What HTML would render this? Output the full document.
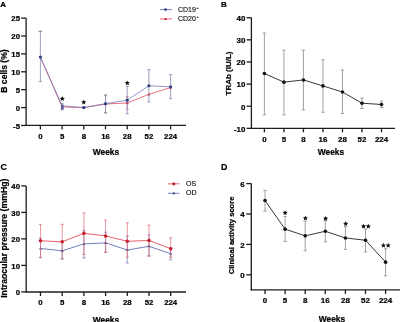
<!DOCTYPE html>
<html><head><meta charset="utf-8"><style>
html,body{margin:0;padding:0;background:#fff;width:400px;height:322px;overflow:hidden}
svg{display:block;font-family:"Liberation Sans", sans-serif;filter:blur(0.3px)}
</style></head><body>
<svg width="400" height="322" viewBox="0 0 400 322">
<rect width="400" height="322" fill="#fff"/>
<text x="0.20" y="7.30" font-size="8.0" text-anchor="start" font-weight="bold" fill="#000" stroke="#000" stroke-width="0.22">A</text>
<line x1="26.10" y1="18.10" x2="26.10" y2="126.00" stroke="#1c1c1c" stroke-width="1.3"/>
<line x1="25.50" y1="125.40" x2="186.00" y2="125.40" stroke="#1c1c1c" stroke-width="1.3"/>
<line x1="21.10" y1="18.10" x2="26.10" y2="18.10" stroke="#1c1c1c" stroke-width="1.3"/>
<text x="20.00" y="21.41" font-size="7.8" text-anchor="end" font-weight="bold" fill="#000" stroke="#000" stroke-width="0.22">25</text>
<line x1="21.10" y1="36.00" x2="26.10" y2="36.00" stroke="#1c1c1c" stroke-width="1.3"/>
<text x="20.00" y="39.31" font-size="7.8" text-anchor="end" font-weight="bold" fill="#000" stroke="#000" stroke-width="0.22">20</text>
<line x1="21.10" y1="53.90" x2="26.10" y2="53.90" stroke="#1c1c1c" stroke-width="1.3"/>
<text x="20.00" y="57.21" font-size="7.8" text-anchor="end" font-weight="bold" fill="#000" stroke="#000" stroke-width="0.22">15</text>
<line x1="21.10" y1="71.80" x2="26.10" y2="71.80" stroke="#1c1c1c" stroke-width="1.3"/>
<text x="20.00" y="75.11" font-size="7.8" text-anchor="end" font-weight="bold" fill="#000" stroke="#000" stroke-width="0.22">10</text>
<line x1="21.10" y1="89.70" x2="26.10" y2="89.70" stroke="#1c1c1c" stroke-width="1.3"/>
<text x="20.00" y="93.01" font-size="7.8" text-anchor="end" font-weight="bold" fill="#000" stroke="#000" stroke-width="0.22">5</text>
<line x1="21.10" y1="107.60" x2="26.10" y2="107.60" stroke="#1c1c1c" stroke-width="1.3"/>
<text x="20.00" y="110.91" font-size="7.8" text-anchor="end" font-weight="bold" fill="#000" stroke="#000" stroke-width="0.22">0</text>
<line x1="21.10" y1="125.50" x2="26.10" y2="125.50" stroke="#1c1c1c" stroke-width="1.3"/>
<text x="20.00" y="128.81" font-size="7.8" text-anchor="end" font-weight="bold" fill="#000" stroke="#000" stroke-width="0.22">-5</text>
<line x1="40.40" y1="125.40" x2="40.40" y2="129.40" stroke="#1c1c1c" stroke-width="1.3"/>
<text x="40.40" y="138.60" font-size="7.8" text-anchor="middle" font-weight="bold" fill="#000" stroke="#000" stroke-width="0.22">0</text>
<line x1="62.10" y1="125.40" x2="62.10" y2="129.40" stroke="#1c1c1c" stroke-width="1.3"/>
<text x="62.10" y="138.60" font-size="7.8" text-anchor="middle" font-weight="bold" fill="#000" stroke="#000" stroke-width="0.22">5</text>
<line x1="83.80" y1="125.40" x2="83.80" y2="129.40" stroke="#1c1c1c" stroke-width="1.3"/>
<text x="83.80" y="138.60" font-size="7.8" text-anchor="middle" font-weight="bold" fill="#000" stroke="#000" stroke-width="0.22">8</text>
<line x1="105.50" y1="125.40" x2="105.50" y2="129.40" stroke="#1c1c1c" stroke-width="1.3"/>
<text x="105.50" y="138.60" font-size="7.8" text-anchor="middle" font-weight="bold" fill="#000" stroke="#000" stroke-width="0.22">16</text>
<line x1="127.20" y1="125.40" x2="127.20" y2="129.40" stroke="#1c1c1c" stroke-width="1.3"/>
<text x="127.20" y="138.60" font-size="7.8" text-anchor="middle" font-weight="bold" fill="#000" stroke="#000" stroke-width="0.22">28</text>
<line x1="148.90" y1="125.40" x2="148.90" y2="129.40" stroke="#1c1c1c" stroke-width="1.3"/>
<text x="148.90" y="138.60" font-size="7.8" text-anchor="middle" font-weight="bold" fill="#000" stroke="#000" stroke-width="0.22">52</text>
<line x1="170.60" y1="125.40" x2="170.60" y2="129.40" stroke="#1c1c1c" stroke-width="1.3"/>
<text x="170.60" y="138.60" font-size="7.8" text-anchor="middle" font-weight="bold" fill="#000" stroke="#000" stroke-width="0.22">224</text>
<text x="106.00" y="155.30" font-size="8.4" text-anchor="middle" font-weight="bold" fill="#000" stroke="#000" stroke-width="0.22">Weeks</text>
<text x="7.20" y="71.00" font-size="8.6" text-anchor="middle" font-weight="bold" fill="#000" stroke="#000" stroke-width="0.22" transform="rotate(-90 7.20 71.00)">B cells (%)</text>
<line x1="38.60" y1="31.35" x2="42.20" y2="31.35" stroke="#e86a78" stroke-width="0.9"/>
<line x1="105.50" y1="95.07" x2="105.50" y2="112.61" stroke="#d87088" stroke-width="0.75"/>
<line x1="103.95" y1="95.07" x2="107.05" y2="95.07" stroke="#d87088" stroke-width="0.75"/>
<line x1="103.95" y1="112.61" x2="107.05" y2="112.61" stroke="#d87088" stroke-width="0.75"/>
<line x1="127.20" y1="96.68" x2="127.20" y2="109.39" stroke="#d87088" stroke-width="0.75"/>
<line x1="125.65" y1="96.68" x2="128.75" y2="96.68" stroke="#d87088" stroke-width="0.75"/>
<line x1="125.65" y1="109.39" x2="128.75" y2="109.39" stroke="#d87088" stroke-width="0.75"/>
<polyline points="40.40,57.12 62.10,106.88 83.80,107.60 105.50,104.02 127.20,102.95 148.90,94.35 170.60,87.55" fill="none" stroke="#e2566a" stroke-width="0.85"/>
<polygon points="105.50,102.52 107.00,105.07 104.00,105.07" fill="#c0202e"/>
<polygon points="127.20,101.45 128.70,104.00 125.70,104.00" fill="#c0202e"/>
<polygon points="148.90,92.85 150.40,95.40 147.40,95.40" fill="#c0202e"/>
<polygon points="170.60,86.05 172.10,88.60 169.10,88.60" fill="#c0202e"/>
<line x1="40.40" y1="31.35" x2="40.40" y2="81.47" stroke="#8588b4" stroke-width="0.8"/>
<line x1="38.85" y1="31.35" x2="41.95" y2="31.35" stroke="#8588b4" stroke-width="0.8"/>
<line x1="38.85" y1="81.47" x2="41.95" y2="81.47" stroke="#8588b4" stroke-width="0.8"/>
<line x1="62.10" y1="103.30" x2="62.10" y2="109.75" stroke="#8588b4" stroke-width="0.8"/>
<line x1="60.55" y1="103.30" x2="63.65" y2="103.30" stroke="#8588b4" stroke-width="0.8"/>
<line x1="60.55" y1="109.75" x2="63.65" y2="109.75" stroke="#8588b4" stroke-width="0.8"/>
<line x1="83.80" y1="106.88" x2="83.80" y2="108.32" stroke="#8588b4" stroke-width="0.8"/>
<line x1="82.25" y1="106.88" x2="85.35" y2="106.88" stroke="#8588b4" stroke-width="0.8"/>
<line x1="82.25" y1="108.32" x2="85.35" y2="108.32" stroke="#8588b4" stroke-width="0.8"/>
<line x1="105.50" y1="95.07" x2="105.50" y2="112.97" stroke="#8588b4" stroke-width="0.8"/>
<line x1="103.95" y1="95.07" x2="107.05" y2="95.07" stroke="#8588b4" stroke-width="0.8"/>
<line x1="103.95" y1="112.97" x2="107.05" y2="112.97" stroke="#8588b4" stroke-width="0.8"/>
<line x1="127.20" y1="86.48" x2="127.20" y2="113.69" stroke="#8588b4" stroke-width="0.8"/>
<line x1="125.65" y1="86.48" x2="128.75" y2="86.48" stroke="#8588b4" stroke-width="0.8"/>
<line x1="125.65" y1="113.69" x2="128.75" y2="113.69" stroke="#8588b4" stroke-width="0.8"/>
<line x1="148.90" y1="69.65" x2="148.90" y2="101.87" stroke="#8588b4" stroke-width="0.8"/>
<line x1="147.35" y1="69.65" x2="150.45" y2="69.65" stroke="#8588b4" stroke-width="0.8"/>
<line x1="147.35" y1="101.87" x2="150.45" y2="101.87" stroke="#8588b4" stroke-width="0.8"/>
<line x1="170.60" y1="74.66" x2="170.60" y2="98.65" stroke="#8588b4" stroke-width="0.8"/>
<line x1="169.05" y1="74.66" x2="172.15" y2="74.66" stroke="#8588b4" stroke-width="0.8"/>
<line x1="169.05" y1="98.65" x2="172.15" y2="98.65" stroke="#8588b4" stroke-width="0.8"/>
<g opacity="0.85">
<polyline points="40.40,57.12 62.10,105.81 83.80,107.60 105.50,103.70 127.20,100.19 148.90,85.76 170.60,86.84" fill="none" stroke="#6670b6" stroke-width="0.85"/>
</g>
<rect x="60.9" y="104.6" width="2.8" height="5" fill="#6a5c98"/>
<circle cx="40.40" cy="57.12" r="1.6" fill="#34407e"/>
<circle cx="83.80" cy="107.60" r="1.6" fill="#34407e"/>
<circle cx="105.50" cy="103.70" r="1.6" fill="#34407e"/>
<circle cx="127.20" cy="100.19" r="1.6" fill="#34407e"/>
<circle cx="148.90" cy="85.76" r="1.6" fill="#34407e"/>
<circle cx="170.60" cy="86.84" r="1.6" fill="#34407e"/>
<polygon points="62.30,96.11 63.05,97.74 64.82,97.95 63.51,99.16 63.86,100.91 62.30,100.04 60.74,100.91 61.09,99.16 59.78,97.95 61.55,97.74" fill="#111"/>
<polygon points="83.75,99.61 84.50,101.24 86.27,101.45 84.96,102.66 85.31,104.41 83.75,103.54 82.19,104.41 82.54,102.66 81.23,101.45 83.00,101.24" fill="#111"/>
<polygon points="127.30,80.41 128.05,82.04 129.82,82.25 128.51,83.46 128.86,85.21 127.30,84.34 125.74,85.21 126.09,83.46 124.78,82.25 126.55,82.04" fill="#111"/>
<line x1="160.00" y1="9.60" x2="172.00" y2="9.60" stroke="#7a82c0" stroke-width="1.0"/>
<circle cx="165.50" cy="9.60" r="1.4" fill="#34407e"/>
<text x="178.00" y="12.20" font-size="7.0" text-anchor="start" font-weight="normal" fill="#000" stroke="#000" stroke-width="0.1">CD19<tspan font-size="3.8" dx="0.6" dy="-3.0">+</tspan></text>
<line x1="160.00" y1="18.90" x2="172.00" y2="18.90" stroke="#e86878" stroke-width="1.0"/>
<polygon points="165.50,17.40 167.00,19.95 164.00,19.95" fill="#c0202e"/>
<text x="178.00" y="21.30" font-size="7.0" text-anchor="start" font-weight="normal" fill="#000" stroke="#000" stroke-width="0.1">CD20<tspan font-size="3.8" dx="0.6" dy="-3.0">+</tspan></text>
<text x="221.00" y="7.30" font-size="8.0" text-anchor="start" font-weight="bold" fill="#000" stroke="#000" stroke-width="0.22">B</text>
<line x1="251.40" y1="17.70" x2="251.40" y2="128.90" stroke="#1c1c1c" stroke-width="1.3"/>
<line x1="250.80" y1="128.30" x2="395.00" y2="128.30" stroke="#1c1c1c" stroke-width="1.3"/>
<line x1="246.60" y1="17.72" x2="251.40" y2="17.72" stroke="#1c1c1c" stroke-width="1.3"/>
<text x="245.40" y="21.06" font-size="7.9" text-anchor="end" font-weight="bold" fill="#000" stroke="#000" stroke-width="0.22">40</text>
<line x1="246.60" y1="39.84" x2="251.40" y2="39.84" stroke="#1c1c1c" stroke-width="1.3"/>
<text x="245.40" y="43.18" font-size="7.9" text-anchor="end" font-weight="bold" fill="#000" stroke="#000" stroke-width="0.22">30</text>
<line x1="246.60" y1="61.96" x2="251.40" y2="61.96" stroke="#1c1c1c" stroke-width="1.3"/>
<text x="245.40" y="65.30" font-size="7.9" text-anchor="end" font-weight="bold" fill="#000" stroke="#000" stroke-width="0.22">20</text>
<line x1="246.60" y1="84.08" x2="251.40" y2="84.08" stroke="#1c1c1c" stroke-width="1.3"/>
<text x="245.40" y="87.42" font-size="7.9" text-anchor="end" font-weight="bold" fill="#000" stroke="#000" stroke-width="0.22">10</text>
<line x1="246.60" y1="106.20" x2="251.40" y2="106.20" stroke="#1c1c1c" stroke-width="1.3"/>
<text x="245.40" y="109.54" font-size="7.9" text-anchor="end" font-weight="bold" fill="#000" stroke="#000" stroke-width="0.22">0</text>
<line x1="246.60" y1="128.32" x2="251.40" y2="128.32" stroke="#1c1c1c" stroke-width="1.3"/>
<text x="245.40" y="131.66" font-size="7.9" text-anchor="end" font-weight="bold" fill="#000" stroke="#000" stroke-width="0.22">-10</text>
<line x1="264.40" y1="128.30" x2="264.40" y2="132.30" stroke="#1c1c1c" stroke-width="1.3"/>
<text x="264.40" y="142.00" font-size="7.9" text-anchor="middle" font-weight="bold" fill="#000" stroke="#000" stroke-width="0.22">0</text>
<line x1="283.92" y1="128.30" x2="283.92" y2="132.30" stroke="#1c1c1c" stroke-width="1.3"/>
<text x="283.92" y="142.00" font-size="7.9" text-anchor="middle" font-weight="bold" fill="#000" stroke="#000" stroke-width="0.22">5</text>
<line x1="303.44" y1="128.30" x2="303.44" y2="132.30" stroke="#1c1c1c" stroke-width="1.3"/>
<text x="303.44" y="142.00" font-size="7.9" text-anchor="middle" font-weight="bold" fill="#000" stroke="#000" stroke-width="0.22">8</text>
<line x1="322.96" y1="128.30" x2="322.96" y2="132.30" stroke="#1c1c1c" stroke-width="1.3"/>
<text x="322.96" y="142.00" font-size="7.9" text-anchor="middle" font-weight="bold" fill="#000" stroke="#000" stroke-width="0.22">16</text>
<line x1="342.48" y1="128.30" x2="342.48" y2="132.30" stroke="#1c1c1c" stroke-width="1.3"/>
<text x="342.48" y="142.00" font-size="7.9" text-anchor="middle" font-weight="bold" fill="#000" stroke="#000" stroke-width="0.22">28</text>
<line x1="362.00" y1="128.30" x2="362.00" y2="132.30" stroke="#1c1c1c" stroke-width="1.3"/>
<text x="362.00" y="142.00" font-size="7.9" text-anchor="middle" font-weight="bold" fill="#000" stroke="#000" stroke-width="0.22">52</text>
<line x1="381.52" y1="128.30" x2="381.52" y2="132.30" stroke="#1c1c1c" stroke-width="1.3"/>
<text x="381.52" y="142.00" font-size="7.9" text-anchor="middle" font-weight="bold" fill="#000" stroke="#000" stroke-width="0.22">224</text>
<text x="331.00" y="155.30" font-size="8.4" text-anchor="middle" font-weight="bold" fill="#000" stroke="#000" stroke-width="0.22">Weeks</text>
<text x="231.30" y="73.50" font-size="8.0" text-anchor="middle" font-weight="bold" fill="#000" stroke="#000" stroke-width="0.22" transform="rotate(-90 231.30 73.50)">TRAb (IU/L)</text>
<line x1="264.40" y1="33.04" x2="264.40" y2="114.88" stroke="#979797" stroke-width="0.9"/>
<line x1="262.70" y1="33.04" x2="266.10" y2="33.04" stroke="#979797" stroke-width="0.9"/>
<line x1="262.70" y1="114.88" x2="266.10" y2="114.88" stroke="#979797" stroke-width="0.9"/>
<line x1="283.92" y1="50.07" x2="283.92" y2="114.88" stroke="#979797" stroke-width="0.9"/>
<line x1="282.22" y1="50.07" x2="285.62" y2="50.07" stroke="#979797" stroke-width="0.9"/>
<line x1="282.22" y1="114.88" x2="285.62" y2="114.88" stroke="#979797" stroke-width="0.9"/>
<line x1="303.44" y1="50.07" x2="303.44" y2="110.02" stroke="#979797" stroke-width="0.9"/>
<line x1="301.74" y1="50.07" x2="305.14" y2="50.07" stroke="#979797" stroke-width="0.9"/>
<line x1="301.74" y1="110.02" x2="305.14" y2="110.02" stroke="#979797" stroke-width="0.9"/>
<line x1="322.96" y1="59.81" x2="322.96" y2="112.23" stroke="#979797" stroke-width="0.9"/>
<line x1="321.26" y1="59.81" x2="324.66" y2="59.81" stroke="#979797" stroke-width="0.9"/>
<line x1="321.26" y1="112.23" x2="324.66" y2="112.23" stroke="#979797" stroke-width="0.9"/>
<line x1="342.48" y1="69.98" x2="342.48" y2="113.56" stroke="#979797" stroke-width="0.9"/>
<line x1="340.78" y1="69.98" x2="344.18" y2="69.98" stroke="#979797" stroke-width="0.9"/>
<line x1="340.78" y1="113.56" x2="344.18" y2="113.56" stroke="#979797" stroke-width="0.9"/>
<line x1="362.00" y1="98.07" x2="362.00" y2="108.47" stroke="#979797" stroke-width="0.9"/>
<line x1="360.30" y1="98.07" x2="363.70" y2="98.07" stroke="#979797" stroke-width="0.9"/>
<line x1="360.30" y1="108.47" x2="363.70" y2="108.47" stroke="#979797" stroke-width="0.9"/>
<line x1="381.52" y1="101.17" x2="381.52" y2="107.58" stroke="#979797" stroke-width="0.9"/>
<line x1="379.82" y1="101.17" x2="383.22" y2="101.17" stroke="#979797" stroke-width="0.9"/>
<line x1="379.82" y1="107.58" x2="383.22" y2="107.58" stroke="#979797" stroke-width="0.9"/>
<polyline points="264.40,73.52 283.92,82.15 303.44,79.93 322.96,85.91 342.48,91.99 362.00,103.21 381.52,104.49" fill="none" stroke="#222" stroke-width="0.9"/>
<circle cx="264.40" cy="73.52" r="1.8" fill="#111"/>
<circle cx="283.92" cy="82.15" r="1.8" fill="#111"/>
<circle cx="303.44" cy="79.93" r="1.8" fill="#111"/>
<circle cx="322.96" cy="85.91" r="1.8" fill="#111"/>
<circle cx="342.48" cy="91.99" r="1.8" fill="#111"/>
<circle cx="362.00" cy="103.21" r="1.8" fill="#111"/>
<circle cx="381.52" cy="104.49" r="1.8" fill="#111"/>
<text x="0.50" y="170.10" font-size="8.8" text-anchor="start" font-weight="bold" fill="#000" stroke="#000" stroke-width="0.22">C</text>
<line x1="26.20" y1="185.90" x2="26.20" y2="292.60" stroke="#1c1c1c" stroke-width="1.3"/>
<line x1="25.60" y1="292.00" x2="186.00" y2="292.00" stroke="#1c1c1c" stroke-width="1.3"/>
<line x1="21.20" y1="185.90" x2="26.20" y2="185.90" stroke="#1c1c1c" stroke-width="1.3"/>
<text x="20.00" y="189.21" font-size="7.8" text-anchor="end" font-weight="bold" fill="#000" stroke="#000" stroke-width="0.22">40</text>
<line x1="21.20" y1="212.40" x2="26.20" y2="212.40" stroke="#1c1c1c" stroke-width="1.3"/>
<text x="20.00" y="215.71" font-size="7.8" text-anchor="end" font-weight="bold" fill="#000" stroke="#000" stroke-width="0.22">30</text>
<line x1="21.20" y1="238.90" x2="26.20" y2="238.90" stroke="#1c1c1c" stroke-width="1.3"/>
<text x="20.00" y="242.21" font-size="7.8" text-anchor="end" font-weight="bold" fill="#000" stroke="#000" stroke-width="0.22">20</text>
<line x1="21.20" y1="265.40" x2="26.20" y2="265.40" stroke="#1c1c1c" stroke-width="1.3"/>
<text x="20.00" y="268.71" font-size="7.8" text-anchor="end" font-weight="bold" fill="#000" stroke="#000" stroke-width="0.22">10</text>
<line x1="21.20" y1="291.90" x2="26.20" y2="291.90" stroke="#1c1c1c" stroke-width="1.3"/>
<text x="20.00" y="295.21" font-size="7.8" text-anchor="end" font-weight="bold" fill="#000" stroke="#000" stroke-width="0.22">0</text>
<line x1="40.50" y1="292.00" x2="40.50" y2="296.00" stroke="#1c1c1c" stroke-width="1.3"/>
<text x="40.50" y="305.20" font-size="7.8" text-anchor="middle" font-weight="bold" fill="#000" stroke="#000" stroke-width="0.22">0</text>
<line x1="62.20" y1="292.00" x2="62.20" y2="296.00" stroke="#1c1c1c" stroke-width="1.3"/>
<text x="62.20" y="305.20" font-size="7.8" text-anchor="middle" font-weight="bold" fill="#000" stroke="#000" stroke-width="0.22">5</text>
<line x1="83.90" y1="292.00" x2="83.90" y2="296.00" stroke="#1c1c1c" stroke-width="1.3"/>
<text x="83.90" y="305.20" font-size="7.8" text-anchor="middle" font-weight="bold" fill="#000" stroke="#000" stroke-width="0.22">8</text>
<line x1="105.60" y1="292.00" x2="105.60" y2="296.00" stroke="#1c1c1c" stroke-width="1.3"/>
<text x="105.60" y="305.20" font-size="7.8" text-anchor="middle" font-weight="bold" fill="#000" stroke="#000" stroke-width="0.22">16</text>
<line x1="127.30" y1="292.00" x2="127.30" y2="296.00" stroke="#1c1c1c" stroke-width="1.3"/>
<text x="127.30" y="305.20" font-size="7.8" text-anchor="middle" font-weight="bold" fill="#000" stroke="#000" stroke-width="0.22">28</text>
<line x1="149.00" y1="292.00" x2="149.00" y2="296.00" stroke="#1c1c1c" stroke-width="1.3"/>
<text x="149.00" y="305.20" font-size="7.8" text-anchor="middle" font-weight="bold" fill="#000" stroke="#000" stroke-width="0.22">52</text>
<line x1="170.70" y1="292.00" x2="170.70" y2="296.00" stroke="#1c1c1c" stroke-width="1.3"/>
<text x="170.70" y="305.20" font-size="7.8" text-anchor="middle" font-weight="bold" fill="#000" stroke="#000" stroke-width="0.22">224</text>
<text x="106.00" y="322.50" font-size="8.4" text-anchor="middle" font-weight="bold" fill="#000" stroke="#000" stroke-width="0.22">Weeks</text>
<text x="7.00" y="238.20" font-size="8.7" text-anchor="middle" font-weight="bold" fill="#000" stroke="#000" stroke-width="0.22" transform="rotate(-90 7.00 238.20)">Intraocular pressure (mmHg)</text>
<line x1="40.50" y1="238.10" x2="40.50" y2="257.45" stroke="#7a7fae" stroke-width="0.75"/>
<line x1="38.90" y1="238.10" x2="42.10" y2="238.10" stroke="#7a7fae" stroke-width="0.75"/>
<line x1="38.90" y1="257.45" x2="42.10" y2="257.45" stroke="#7a7fae" stroke-width="0.75"/>
<line x1="62.20" y1="241.55" x2="62.20" y2="259.04" stroke="#7a7fae" stroke-width="0.75"/>
<line x1="60.60" y1="241.55" x2="63.80" y2="241.55" stroke="#7a7fae" stroke-width="0.75"/>
<line x1="60.60" y1="259.04" x2="63.80" y2="259.04" stroke="#7a7fae" stroke-width="0.75"/>
<line x1="83.90" y1="230.42" x2="83.90" y2="257.98" stroke="#7a7fae" stroke-width="0.75"/>
<line x1="82.30" y1="230.42" x2="85.50" y2="230.42" stroke="#7a7fae" stroke-width="0.75"/>
<line x1="82.30" y1="257.98" x2="85.50" y2="257.98" stroke="#7a7fae" stroke-width="0.75"/>
<line x1="105.60" y1="232.27" x2="105.60" y2="252.15" stroke="#7a7fae" stroke-width="0.75"/>
<line x1="104.00" y1="232.27" x2="107.20" y2="232.27" stroke="#7a7fae" stroke-width="0.75"/>
<line x1="104.00" y1="252.15" x2="107.20" y2="252.15" stroke="#7a7fae" stroke-width="0.75"/>
<line x1="127.30" y1="235.98" x2="127.30" y2="263.01" stroke="#7a7fae" stroke-width="0.75"/>
<line x1="125.70" y1="235.98" x2="128.90" y2="235.98" stroke="#7a7fae" stroke-width="0.75"/>
<line x1="125.70" y1="263.01" x2="128.90" y2="263.01" stroke="#7a7fae" stroke-width="0.75"/>
<line x1="149.00" y1="234.92" x2="149.00" y2="255.86" stroke="#7a7fae" stroke-width="0.75"/>
<line x1="147.40" y1="234.92" x2="150.60" y2="234.92" stroke="#7a7fae" stroke-width="0.75"/>
<line x1="147.40" y1="255.86" x2="150.60" y2="255.86" stroke="#7a7fae" stroke-width="0.75"/>
<line x1="170.70" y1="248.17" x2="170.70" y2="259.83" stroke="#7a7fae" stroke-width="0.75"/>
<line x1="169.10" y1="248.17" x2="172.30" y2="248.17" stroke="#7a7fae" stroke-width="0.75"/>
<line x1="169.10" y1="259.83" x2="172.30" y2="259.83" stroke="#7a7fae" stroke-width="0.75"/>
<polyline points="40.50,248.44 62.20,250.82 83.90,243.93 105.60,242.87 127.30,250.03 149.00,246.32 170.70,253.74" fill="none" stroke="#6470b0" stroke-width="0.9"/>
<polygon points="40.50,246.94 42.00,249.49 39.00,249.49" fill="#34407e"/>
<polygon points="62.20,249.32 63.70,251.88 60.70,251.88" fill="#34407e"/>
<polygon points="83.90,242.43 85.40,244.98 82.40,244.98" fill="#34407e"/>
<polygon points="105.60,241.37 107.10,243.92 104.10,243.92" fill="#34407e"/>
<polygon points="127.30,248.53 128.80,251.08 125.80,251.08" fill="#34407e"/>
<polygon points="149.00,244.82 150.50,247.37 147.50,247.37" fill="#34407e"/>
<polygon points="170.70,252.24 172.20,254.79 169.20,254.79" fill="#34407e"/>
<line x1="40.50" y1="224.59" x2="40.50" y2="257.71" stroke="#e27080" stroke-width="0.75"/>
<line x1="38.90" y1="224.59" x2="42.10" y2="224.59" stroke="#e27080" stroke-width="0.75"/>
<line x1="38.90" y1="257.71" x2="42.10" y2="257.71" stroke="#e27080" stroke-width="0.75"/>
<line x1="62.20" y1="224.32" x2="62.20" y2="258.77" stroke="#e27080" stroke-width="0.75"/>
<line x1="60.60" y1="224.32" x2="63.80" y2="224.32" stroke="#e27080" stroke-width="0.75"/>
<line x1="60.60" y1="258.77" x2="63.80" y2="258.77" stroke="#e27080" stroke-width="0.75"/>
<line x1="83.90" y1="212.93" x2="83.90" y2="254.53" stroke="#e27080" stroke-width="0.75"/>
<line x1="82.30" y1="212.93" x2="85.50" y2="212.93" stroke="#e27080" stroke-width="0.75"/>
<line x1="82.30" y1="254.53" x2="85.50" y2="254.53" stroke="#e27080" stroke-width="0.75"/>
<line x1="105.60" y1="220.08" x2="105.60" y2="252.41" stroke="#e27080" stroke-width="0.75"/>
<line x1="104.00" y1="220.08" x2="107.20" y2="220.08" stroke="#e27080" stroke-width="0.75"/>
<line x1="104.00" y1="252.41" x2="107.20" y2="252.41" stroke="#e27080" stroke-width="0.75"/>
<line x1="127.30" y1="222.73" x2="127.30" y2="257.19" stroke="#e27080" stroke-width="0.75"/>
<line x1="125.70" y1="222.73" x2="128.90" y2="222.73" stroke="#e27080" stroke-width="0.75"/>
<line x1="125.70" y1="257.19" x2="128.90" y2="257.19" stroke="#e27080" stroke-width="0.75"/>
<line x1="149.00" y1="225.12" x2="149.00" y2="256.12" stroke="#e27080" stroke-width="0.75"/>
<line x1="147.40" y1="225.12" x2="150.60" y2="225.12" stroke="#e27080" stroke-width="0.75"/>
<line x1="147.40" y1="256.12" x2="150.60" y2="256.12" stroke="#e27080" stroke-width="0.75"/>
<line x1="170.70" y1="237.84" x2="170.70" y2="257.19" stroke="#e27080" stroke-width="0.75"/>
<line x1="169.10" y1="237.84" x2="172.30" y2="237.84" stroke="#e27080" stroke-width="0.75"/>
<line x1="169.10" y1="257.19" x2="172.30" y2="257.19" stroke="#e27080" stroke-width="0.75"/>
<polyline points="40.50,240.75 62.20,241.81 83.90,233.33 105.60,235.98 127.30,241.28 149.00,240.49 170.70,248.70" fill="none" stroke="#e04e5e" stroke-width="0.9"/>
<circle cx="40.50" cy="240.75" r="1.8" fill="#c8202e"/>
<circle cx="62.20" cy="241.81" r="1.8" fill="#c8202e"/>
<circle cx="83.90" cy="233.33" r="1.8" fill="#c8202e"/>
<circle cx="105.60" cy="235.98" r="1.8" fill="#c8202e"/>
<circle cx="127.30" cy="241.28" r="1.8" fill="#c8202e"/>
<circle cx="149.00" cy="240.49" r="1.8" fill="#c8202e"/>
<circle cx="170.70" cy="248.70" r="1.8" fill="#c8202e"/>
<line x1="168.00" y1="183.80" x2="179.50" y2="183.80" stroke="#e86878" stroke-width="1.0"/>
<circle cx="173.80" cy="183.80" r="1.6" fill="#c8202e"/>
<text x="186.00" y="186.40" font-size="7.0" text-anchor="start" font-weight="normal" fill="#000" stroke="#000" stroke-width="0.1">OS</text>
<line x1="168.00" y1="193.30" x2="179.50" y2="193.30" stroke="#7a82c0" stroke-width="1.0"/>
<polygon points="173.80,191.80 175.30,194.35 172.30,194.35" fill="#34407e"/>
<text x="186.00" y="195.30" font-size="7.0" text-anchor="start" font-weight="normal" fill="#000" stroke="#000" stroke-width="0.1">OD</text>
<text x="220.90" y="170.10" font-size="8.8" text-anchor="start" font-weight="bold" fill="#000" stroke="#000" stroke-width="0.22">D</text>
<line x1="251.30" y1="183.60" x2="251.30" y2="290.50" stroke="#1c1c1c" stroke-width="1.3"/>
<line x1="250.70" y1="289.90" x2="400.00" y2="289.90" stroke="#1c1c1c" stroke-width="1.3"/>
<line x1="246.30" y1="183.60" x2="251.30" y2="183.60" stroke="#1c1c1c" stroke-width="1.3"/>
<text x="244.60" y="186.98" font-size="8.0" text-anchor="end" font-weight="bold" fill="#000" stroke="#000" stroke-width="0.22">6</text>
<line x1="246.30" y1="214.00" x2="251.30" y2="214.00" stroke="#1c1c1c" stroke-width="1.3"/>
<text x="244.60" y="217.38" font-size="8.0" text-anchor="end" font-weight="bold" fill="#000" stroke="#000" stroke-width="0.22">4</text>
<line x1="246.30" y1="244.40" x2="251.30" y2="244.40" stroke="#1c1c1c" stroke-width="1.3"/>
<text x="244.60" y="247.78" font-size="8.0" text-anchor="end" font-weight="bold" fill="#000" stroke="#000" stroke-width="0.22">2</text>
<line x1="246.30" y1="274.80" x2="251.30" y2="274.80" stroke="#1c1c1c" stroke-width="1.3"/>
<text x="244.60" y="278.18" font-size="8.0" text-anchor="end" font-weight="bold" fill="#000" stroke="#000" stroke-width="0.22">0</text>
<line x1="265.00" y1="289.90" x2="265.00" y2="293.90" stroke="#1c1c1c" stroke-width="1.3"/>
<text x="265.00" y="303.10" font-size="8.0" text-anchor="middle" font-weight="bold" fill="#000" stroke="#000" stroke-width="0.22">0</text>
<line x1="285.10" y1="289.90" x2="285.10" y2="293.90" stroke="#1c1c1c" stroke-width="1.3"/>
<text x="285.10" y="303.10" font-size="8.0" text-anchor="middle" font-weight="bold" fill="#000" stroke="#000" stroke-width="0.22">5</text>
<line x1="305.20" y1="289.90" x2="305.20" y2="293.90" stroke="#1c1c1c" stroke-width="1.3"/>
<text x="305.20" y="303.10" font-size="8.0" text-anchor="middle" font-weight="bold" fill="#000" stroke="#000" stroke-width="0.22">8</text>
<line x1="325.30" y1="289.90" x2="325.30" y2="293.90" stroke="#1c1c1c" stroke-width="1.3"/>
<text x="325.30" y="303.10" font-size="8.0" text-anchor="middle" font-weight="bold" fill="#000" stroke="#000" stroke-width="0.22">16</text>
<line x1="345.40" y1="289.90" x2="345.40" y2="293.90" stroke="#1c1c1c" stroke-width="1.3"/>
<text x="345.40" y="303.10" font-size="8.0" text-anchor="middle" font-weight="bold" fill="#000" stroke="#000" stroke-width="0.22">28</text>
<line x1="365.50" y1="289.90" x2="365.50" y2="293.90" stroke="#1c1c1c" stroke-width="1.3"/>
<text x="365.50" y="303.10" font-size="8.0" text-anchor="middle" font-weight="bold" fill="#000" stroke="#000" stroke-width="0.22">52</text>
<line x1="385.60" y1="289.90" x2="385.60" y2="293.90" stroke="#1c1c1c" stroke-width="1.3"/>
<text x="385.60" y="303.10" font-size="8.0" text-anchor="middle" font-weight="bold" fill="#000" stroke="#000" stroke-width="0.22">224</text>
<text x="332.00" y="322.00" font-size="8.4" text-anchor="middle" font-weight="bold" fill="#000" stroke="#000" stroke-width="0.22">Weeks</text>
<text x="234.20" y="235.40" font-size="7.6" text-anchor="middle" font-weight="bold" fill="#000" stroke="#000" stroke-width="0.22" transform="rotate(-90 234.20 235.40)">Clinical activity score</text>
<line x1="265.00" y1="190.38" x2="265.00" y2="211.06" stroke="#979797" stroke-width="0.9"/>
<line x1="263.30" y1="190.38" x2="266.70" y2="190.38" stroke="#979797" stroke-width="0.9"/>
<line x1="263.30" y1="211.06" x2="266.70" y2="211.06" stroke="#979797" stroke-width="0.9"/>
<line x1="285.10" y1="216.68" x2="285.10" y2="241.46" stroke="#979797" stroke-width="0.9"/>
<line x1="283.40" y1="216.68" x2="286.80" y2="216.68" stroke="#979797" stroke-width="0.9"/>
<line x1="283.40" y1="241.46" x2="286.80" y2="241.46" stroke="#979797" stroke-width="0.9"/>
<line x1="305.20" y1="221.09" x2="305.20" y2="250.73" stroke="#979797" stroke-width="0.9"/>
<line x1="303.50" y1="221.09" x2="306.90" y2="221.09" stroke="#979797" stroke-width="0.9"/>
<line x1="303.50" y1="250.73" x2="306.90" y2="250.73" stroke="#979797" stroke-width="0.9"/>
<line x1="325.30" y1="220.63" x2="325.30" y2="241.76" stroke="#979797" stroke-width="0.9"/>
<line x1="323.60" y1="220.63" x2="327.00" y2="220.63" stroke="#979797" stroke-width="0.9"/>
<line x1="323.60" y1="241.76" x2="327.00" y2="241.76" stroke="#979797" stroke-width="0.9"/>
<line x1="345.40" y1="226.56" x2="345.40" y2="249.36" stroke="#979797" stroke-width="0.9"/>
<line x1="343.70" y1="226.56" x2="347.10" y2="226.56" stroke="#979797" stroke-width="0.9"/>
<line x1="343.70" y1="249.36" x2="347.10" y2="249.36" stroke="#979797" stroke-width="0.9"/>
<line x1="365.50" y1="229.14" x2="365.50" y2="251.94" stroke="#979797" stroke-width="0.9"/>
<line x1="363.80" y1="229.14" x2="367.20" y2="229.14" stroke="#979797" stroke-width="0.9"/>
<line x1="363.80" y1="251.94" x2="367.20" y2="251.94" stroke="#979797" stroke-width="0.9"/>
<line x1="385.60" y1="248.75" x2="385.60" y2="275.81" stroke="#979797" stroke-width="0.9"/>
<line x1="383.90" y1="248.75" x2="387.30" y2="248.75" stroke="#979797" stroke-width="0.9"/>
<line x1="383.90" y1="275.81" x2="387.30" y2="275.81" stroke="#979797" stroke-width="0.9"/>
<polyline points="265.00,200.57 285.10,229.14 305.20,235.83 325.30,231.27 345.40,237.96 365.50,240.24 385.60,262.13" fill="none" stroke="#222" stroke-width="0.9"/>
<circle cx="265.00" cy="200.57" r="1.8" fill="#111"/>
<circle cx="285.10" cy="229.14" r="1.8" fill="#111"/>
<circle cx="305.20" cy="235.83" r="1.8" fill="#111"/>
<circle cx="325.30" cy="231.27" r="1.8" fill="#111"/>
<circle cx="345.40" cy="237.96" r="1.8" fill="#111"/>
<circle cx="365.50" cy="240.24" r="1.8" fill="#111"/>
<circle cx="385.60" cy="262.13" r="1.8" fill="#111"/>
<polygon points="285.10,210.21 285.85,211.84 287.62,212.05 286.31,213.26 286.66,215.01 285.10,214.14 283.54,215.01 283.89,213.26 282.58,212.05 284.35,211.84" fill="#111"/>
<polygon points="305.40,215.51 306.15,217.14 307.92,217.35 306.61,218.56 306.96,220.31 305.40,219.44 303.84,220.31 304.19,218.56 302.88,217.35 304.65,217.14" fill="#111"/>
<polygon points="325.60,215.91 326.35,217.54 328.12,217.75 326.81,218.96 327.16,220.71 325.60,219.84 324.04,220.71 324.39,218.96 323.08,217.75 324.85,217.54" fill="#111"/>
<polygon points="345.70,221.11 346.45,222.74 348.22,222.95 346.91,224.16 347.26,225.91 345.70,225.04 344.14,225.91 344.49,224.16 343.18,222.95 344.95,222.74" fill="#111"/>
<polygon points="363.50,223.71 364.25,225.34 366.02,225.55 364.71,226.76 365.06,228.51 363.50,227.64 361.94,228.51 362.29,226.76 360.98,225.55 362.75,225.34" fill="#111"/>
<polygon points="368.30,223.71 369.05,225.34 370.82,225.55 369.51,226.76 369.86,228.51 368.30,227.64 366.74,228.51 367.09,226.76 365.78,225.55 367.55,225.34" fill="#111"/>
<polygon points="383.40,242.81 384.15,244.44 385.92,244.65 384.61,245.86 384.96,247.61 383.40,246.74 381.84,247.61 382.19,245.86 380.88,244.65 382.65,244.44" fill="#111"/>
<polygon points="388.20,242.81 388.95,244.44 390.72,244.65 389.41,245.86 389.76,247.61 388.20,246.74 386.64,247.61 386.99,245.86 385.68,244.65 387.45,244.44" fill="#111"/>
</svg></body></html>
